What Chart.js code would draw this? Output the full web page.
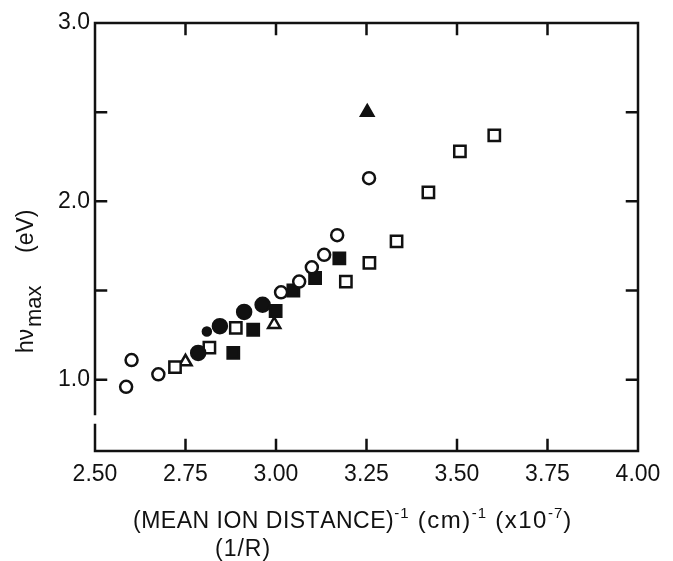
<!DOCTYPE html>
<html>
<head>
<meta charset="utf-8">
<script src="https://cdn.jsdelivr.net/npm/chart.js@4"></script>
<style>
    html, body { margin: 0; padding: 0; background: #fff; }
    #wrap { width: 673px; height: 561px; }
</style>
</head>
<body>
<div id="wrap"><canvas id="chart" width="673" height="561"></canvas></div>
<script>
// axis ticks
const xTicks = [2.50, 2.75, 3.00, 3.25, 3.50, 3.75, 4.00];
const yTicks = [1.0, 1.5, 2.0, 2.5, 3.0];
const yLabelled = [1.0, 2.0, 3.0];

// open circles
const openCircleX = [2.586, 2.601, 2.675, 3.014, 3.064, 3.099, 3.133, 3.169, 3.257];
const openCircleY = [0.96, 1.11, 1.03, 1.49, 1.55, 1.63, 1.70, 1.81, 2.13];
// filled circles
const filledCircleX = [2.785, 2.845, 2.912, 2.963];
const filledCircleY = [1.15, 1.30, 1.38, 1.42];
// the one small filled dot
const smallDotX = [2.809];
const smallDotY = [1.27];
// open squares
const openSquareX = [2.721, 2.816, 2.889, 3.193, 3.258, 3.333, 3.421, 3.508, 3.603];
const openSquareY = [1.07, 1.18, 1.29, 1.55, 1.655, 1.775, 2.05, 2.28, 2.37];
// filled squares
const filledSquareX = [2.882, 2.937, 2.999, 3.048, 3.108, 3.175];
const filledSquareY = [1.15, 1.28, 1.385, 1.50, 1.57, 1.68];
// open triangles
const openTriangleX = [2.750, 2.995];
const openTriangleY = [1.10, 1.31];
// filled triangle
const filledTriangleX = [3.252];
const filledTriangleY = [2.50];

const INK = "#111";
const FONT = '"Liberation Sans", Arial, sans-serif';

const toPoints = (xs, ys) => xs.map((x, i) => ({ x, y: ys[i] }));

function markerSet(label, xs, ys, style, filled, radius) {
    return {
        label,
        data: toPoints(xs, ys),
        pointStyle: style,
        pointRadius: radius,
        pointHoverRadius: radius,
        pointBorderWidth: 2.5,
        pointBorderColor: INK,
        pointBackgroundColor: filled ? INK : "#fff",
        showLine: false,
    };
}

// superscripts are drawn as smaller raised text, spacing is per character
function drawRich(ctx, parts, x, y) {
    let cx = x;
    for (const p of parts) {
        ctx.font = `${p.size}px ${FONT}`;
        const dy = p.sup ? -10 : 0;
        for (const ch of p.t) {
            ctx.fillText(ch, cx, y + dy);
            cx += ctx.measureText(ch).width + (p.gap || 0);
        }
    }
}

const framePlugin = {
    id: "frame",
    beforeDatasetsDraw(chart) {
        const { ctx, chartArea: a, scales } = chart;
        const tick = 11;
        ctx.save();
        ctx.strokeStyle = INK;
        ctx.lineWidth = 2.5;
        ctx.lineCap = "square";
        ctx.beginPath();
        // left axis has a small break near the bottom
        ctx.moveTo(a.left, a.top);
        ctx.lineTo(a.left, 414);
        ctx.moveTo(a.left, 425);
        ctx.lineTo(a.left, a.bottom);
        ctx.lineTo(a.right, a.bottom);
        ctx.lineTo(a.right, a.top);
        ctx.lineTo(a.left, a.top);
        for (const v of xTicks.slice(1, -1)) {
            const px = scales.x.getPixelForValue(v);
            ctx.moveTo(px, a.bottom);
            ctx.lineTo(px, a.bottom - tick);
            ctx.moveTo(px, a.top);
            ctx.lineTo(px, a.top + tick);
        }
        for (const v of yTicks.slice(0, -1)) {
            const py = scales.y.getPixelForValue(v);
            ctx.moveTo(a.left, py);
            ctx.lineTo(a.left + tick, py);
            ctx.moveTo(a.right, py);
            ctx.lineTo(a.right - tick, py);
        }
        ctx.stroke();
        ctx.restore();
    },
    afterDraw(chart) {
        const { ctx } = chart;
        ctx.save();
        ctx.fillStyle = INK;
        ctx.textAlign = "left";
        ctx.textBaseline = "alphabetic";
        drawRich(ctx, [
            { t: "(MEAN ION DISTANCE)", size: 23, gap: 0.5 },
            { t: "-1", size: 15, sup: true, gap: 1 },
            { t: " (cm)", size: 24, gap: 1.5 },
            { t: "-1", size: 15, sup: true, gap: 1 },
            { t: " (x10", size: 24, gap: 1.5 },
            { t: "-7", size: 15, sup: true, gap: 1 },
            { t: ")", size: 24 },
        ], 133, 528);
        drawRich(ctx, [{ t: "(1/R)", size: 23, gap: 1 }], 215, 556);

        // y title: h nu with subscript max, then (eV)
        ctx.translate(33, 353);
        ctx.rotate(-Math.PI / 2);
        ctx.font = `23px ${FONT}`;
        ctx.fillText("h\u03bd", 0, 0);
        ctx.font = `22px ${FONT}`;
        ctx.fillText("max", 26, 8);
        ctx.font = `23px ${FONT}`;
        ctx.fillText("(eV)", 100, 0);
        ctx.restore();
    },
};

new Chart(document.getElementById("chart"), {
    type: "scatter",
    data: {
        datasets: [
            markerSet("open circles", openCircleX, openCircleY, "circle", false, 6),
            markerSet("filled circles", filledCircleX, filledCircleY, "circle", true, 7),
            markerSet("small dot", smallDotX, smallDotY, "circle", true, 4),
            markerSet("open squares", openSquareX, openSquareY, "rect", false, 8),
            markerSet("filled squares", filledSquareX, filledSquareY, "rect", true, 8),
            markerSet("open triangles", openTriangleX, openTriangleY, "triangle", false, 7),
            markerSet("filled triangle", filledTriangleX, filledTriangleY, "triangle", true, 7),
        ],
    },
    options: {
        responsive: false,
        animation: false,
        layout: { padding: { left: 0, right: 35, top: 23, bottom: 0 } },
        plugins: {
            legend: { display: false },
            tooltip: { enabled: false },
        },
        scales: {
            x: {
                type: "linear",
                min: 2.5,
                max: 4.0,
                afterBuildTicks: (scale) => {
                    scale.ticks = xTicks.map((value) => ({ value }));
                },
                afterFit: (scale) => {
                    scale.height = 110;
                },
                grid: { display: false, drawTicks: false },
                border: { display: false },
                ticks: {
                    padding: 10,
                    color: INK,
                    font: { family: FONT, size: 23 },
                    callback: (value) => value.toFixed(2),
                },
            },
            y: {
                type: "linear",
                min: 0.6,
                max: 3.0,
                afterBuildTicks: (scale) => {
                    scale.ticks = yTicks.map((value) => ({ value }));
                },
                afterFit: (scale) => {
                    scale.width = 95;
                },
                grid: { display: false, drawTicks: false },
                border: { display: false },
                ticks: {
                    padding: 5,
                    color: INK,
                    font: { family: FONT, size: 23 },
                    callback: (value) => (yLabelled.includes(value) ? value.toFixed(1) : ""),
                },
            },
        },
    },
    plugins: [framePlugin],
});
</script>
</body>
</html>
